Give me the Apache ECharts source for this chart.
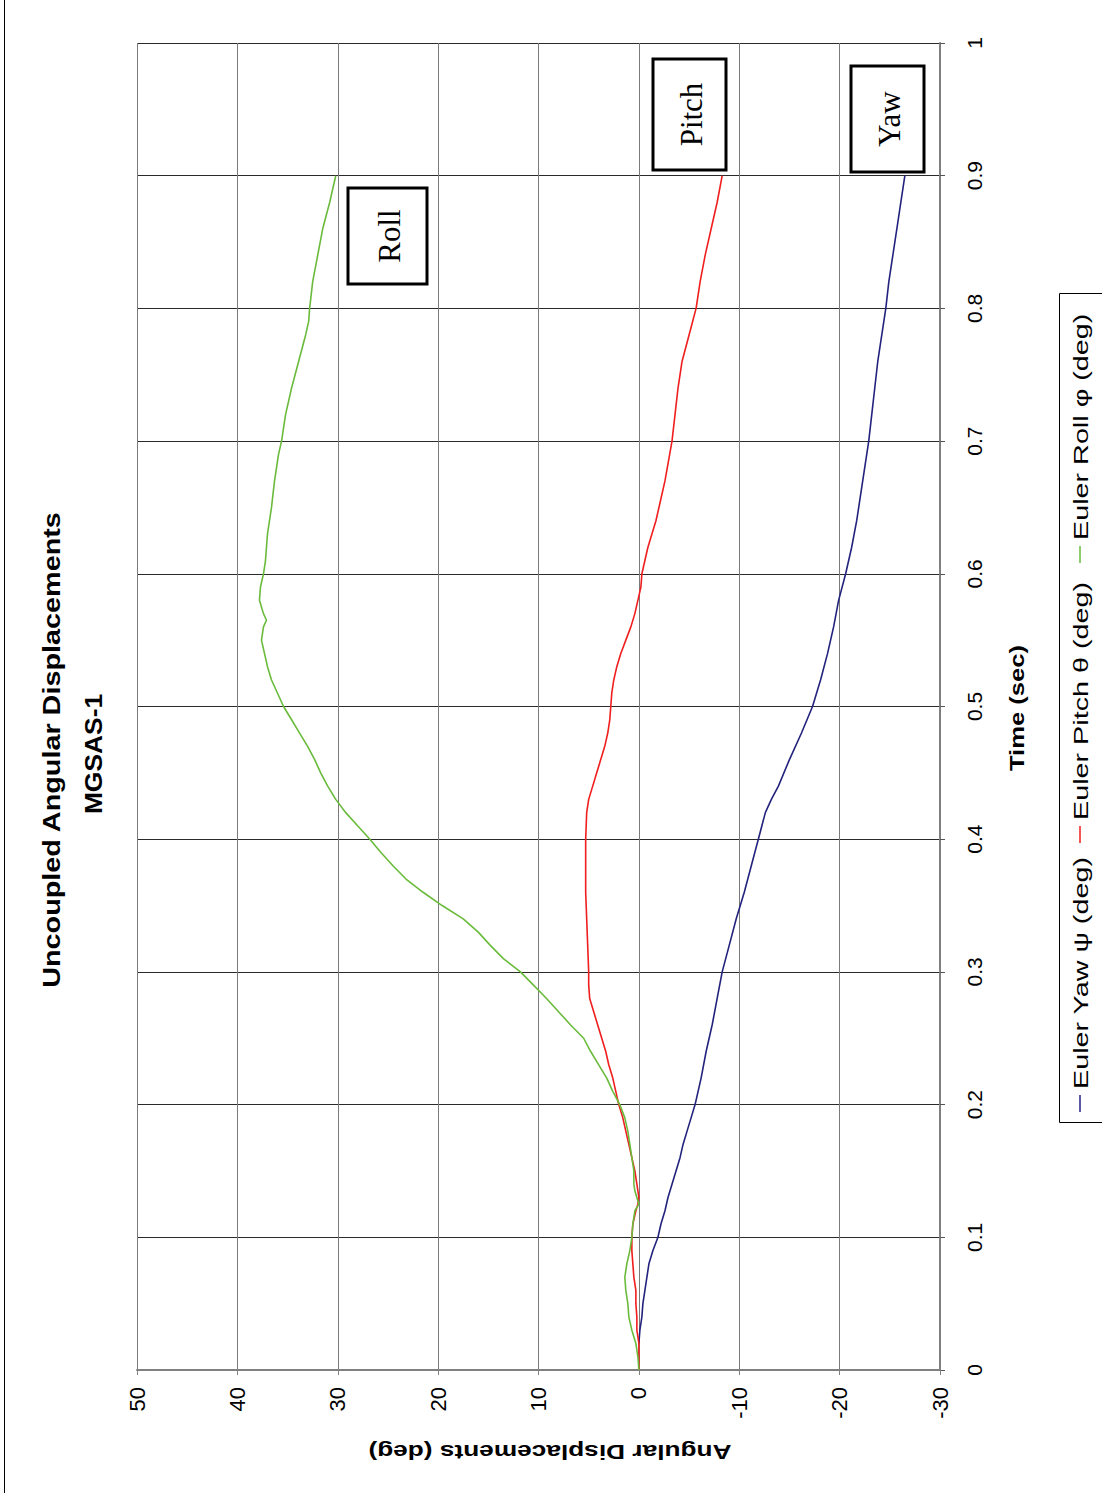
<!DOCTYPE html>
<html><head><meta charset="utf-8">
<script src="https://cdn.jsdelivr.net/npm/echarts@6/dist/echarts.min.js"></script>
<style>html,body{margin:0;padding:0;background:#fff}#c{width:1102px;height:1493px}</style>
</head><body><div id="c"></div><script>
// ---- data (time in sec, angle in deg) ----
const yawTime = [0.02,0.03,0.04,0.05,0.06,0.07,0.08,0.09,0.10,0.11,0.12,0.13,0.14,0.15,0.16,0.17,0.18,0.19,0.20,0.22,0.24,0.26,0.28,0.30,0.32,0.34,0.36,0.38,0.40,0.42,0.43,0.44,0.46,0.48,0.50,0.52,0.54,0.56,0.58,0.60,0.62,0.64,0.66,0.68,0.70,0.72,0.74,0.76,0.78,0.80,0.82,0.84,0.86,0.88,0.90];
const yawDeg  = [0.0,-0.1,-0.3,-0.4,-0.6,-0.8,-1.0,-1.4,-1.9,-2.2,-2.6,-2.9,-3.3,-3.7,-4.1,-4.4,-4.8,-5.2,-5.6,-6.2,-6.7,-7.3,-7.8,-8.3,-9.0,-9.7,-10.5,-11.2,-11.9,-12.6,-13.2,-13.9,-15.0,-16.2,-17.3,-18.1,-18.8,-19.4,-19.9,-20.6,-21.2,-21.7,-22.1,-22.5,-22.9,-23.2,-23.5,-23.8,-24.2,-24.6,-24.9,-25.3,-25.7,-26.1,-26.5];

const pitchTime = [0.00,0.01,0.02,0.03,0.04,0.05,0.06,0.07,0.08,0.09,0.10,0.11,0.12,0.125,0.13,0.14,0.15,0.16,0.17,0.18,0.19,0.20,0.21,0.22,0.23,0.24,0.25,0.26,0.27,0.28,0.29,0.30,0.32,0.34,0.36,0.38,0.40,0.42,0.43,0.44,0.45,0.46,0.47,0.48,0.49,0.50,0.51,0.52,0.53,0.54,0.55,0.56,0.57,0.58,0.59,0.60,0.61,0.62,0.63,0.64,0.65,0.67,0.70,0.72,0.74,0.76,0.78,0.80,0.82,0.84,0.86,0.88,0.90];
const pitchDeg  = [0.0,0.0,0.0,0.2,0.2,0.3,0.3,0.5,0.6,0.7,0.7,0.6,0.3,0.1,0.0,0.2,0.4,0.7,1.0,1.3,1.6,2.0,2.3,2.6,3.0,3.3,3.7,4.1,4.5,4.9,5.0,5.0,5.1,5.2,5.3,5.3,5.3,5.2,5.0,4.6,4.2,3.8,3.4,3.1,2.9,2.8,2.7,2.5,2.2,1.8,1.3,0.8,0.4,0.1,-0.2,-0.3,-0.6,-0.9,-1.3,-1.7,-2.0,-2.6,-3.3,-3.6,-3.9,-4.3,-5.0,-5.7,-6.1,-6.6,-7.2,-7.8,-8.3];

const rollTime = [0.00,0.01,0.02,0.03,0.04,0.05,0.06,0.07,0.08,0.09,0.10,0.11,0.12,0.125,0.13,0.135,0.14,0.15,0.16,0.17,0.18,0.19,0.20,0.21,0.22,0.23,0.24,0.25,0.26,0.27,0.28,0.29,0.30,0.31,0.32,0.33,0.34,0.35,0.36,0.37,0.38,0.39,0.40,0.41,0.42,0.43,0.44,0.45,0.46,0.47,0.48,0.49,0.50,0.51,0.52,0.53,0.54,0.55,0.56,0.565,0.57,0.58,0.59,0.60,0.61,0.62,0.63,0.64,0.65,0.67,0.69,0.70,0.72,0.74,0.76,0.78,0.79,0.80,0.82,0.84,0.86,0.88,0.90];
const rollDeg  = [0.0,0.1,0.3,0.7,1.0,1.1,1.3,1.4,1.2,0.9,0.7,0.6,0.4,0.0,0.2,0.4,0.5,0.5,0.7,0.9,1.1,1.4,1.9,2.6,3.2,4.0,4.8,5.5,6.8,8.0,9.2,10.5,11.8,13.5,14.8,16.0,17.5,19.6,21.5,23.2,24.5,25.7,26.8,28.0,29.2,30.2,31.0,31.7,32.3,33.0,33.8,34.6,35.4,36.0,36.6,37.0,37.3,37.6,37.4,37.1,37.4,37.8,37.7,37.4,37.2,37.1,37.0,36.8,36.6,36.3,35.9,35.6,35.2,34.6,33.9,33.2,32.9,32.8,32.5,32.0,31.5,30.8,30.2];

const seriesNames = ['Euler Yaw \u03c8 (deg)','Euler Pitch \u03b8 (deg)','Euler Roll \u03c6 (deg)'];
const seriesColors = ['#23237e','#f01e1e','#6abb3c'];
const labelTexts = ['Roll','Pitch','Yaw'];
const titleText = 'Uncoupled Angular Displacements';
const subTitleText = 'MGSAS-1';
const xName = 'Angular Displacements (deg)';
const yName = 'Time (sec)';

const pairs = (t, v) => t.map((x, i) => [v[i], x]);

const chart = echarts.init(document.getElementById('c'), null, {renderer: 'svg', width: 1102, height: 1493});
const F = '"Liberation Sans", Arial, sans-serif';
const R = Math.PI / 2;

// legend items (vertical, reading upward)
const legendItems = [];
const legendStarts = [1112, 843, 563];
seriesNames.forEach((n, i) => {
  const y0 = legendStarts[i];
  legendItems.push({type: 'line', shape: {x1: 1080, y1: y0, x2: 1080, y2: y0 - 17}, style: {stroke: seriesColors[i], lineWidth: 1.5}});
  legendItems.push({type: 'text', x: 1080, y: y0 - 23, rotation: R, scaleX: 1.37,
    style: {text: n, font: '21px ' + F, align: 'left', verticalAlign: 'middle', fill: '#000'}});
});

const boxes = [
  {cx: 387.5, cy: 236, w: 79, h: 96},
  {cx: 689.5, cy: 114.5, w: 73, h: 111},
  {cx: 887.5, cy: 119, w: 73, h: 106}
];
const boxItems = [];
boxes.forEach((b, i) => {
  boxItems.push({type: 'rect', shape: {x: b.cx - b.w / 2, y: b.cy - b.h / 2, width: b.w, height: b.h},
    style: {fill: '#fff', stroke: '#000', lineWidth: 3}, z: 10});
  boxItems.push({type: 'text', x: b.cx + 2, y: b.cy, rotation: R, z: 11,
    style: {text: labelTexts[i], font: '31px "Liberation Serif", "Times New Roman", serif', align: 'center', verticalAlign: 'middle', fill: '#000'}});
});

const option = {
  animation: false,
  backgroundColor: '#fff',
  grid: {left: 137, right: 162, top: 43, bottom: 123, containLabel: false},
  xAxis: {
    type: 'value', min: -30, max: 50, interval: 10, inverse: true, position: 'bottom',
    axisLine: {onZero: false, lineStyle: {color: '#808080', width: 2}},
    axisTick: {show: true, length: 5, lineStyle: {color: '#808080', width: 1}},
    axisLabel: {rotate: 90, margin: 17, fontSize: 22, fontFamily: F, color: '#000'},
    splitLine: {show: true, lineStyle: {color: '#7a7a7a', width: 1}}
  },
  yAxis: [{
    type: 'value', min: 0, max: 1, interval: 0.1, position: 'right',
    axisLine: {show: false}, axisTick: {show: false},
    axisLabel: {rotate: 90, margin: 24, fontSize: 21, fontFamily: F, color: '#000'},
    splitLine: {show: true, lineStyle: {color: '#2a2a2a', width: 1}}
  }, {
    type: 'value', min: 0, max: 1, interval: 0.1, position: 'right',
    axisLine: {show: true, onZero: true, lineStyle: {color: '#808080', width: 2}},
    axisTick: {show: true, length: 5, lineStyle: {color: '#555', width: 1}},
    axisLabel: {show: false}, splitLine: {show: false}
  }],
  series: [
    {name: seriesNames[0], type: 'line', data: pairs(yawTime, yawDeg), showSymbol: false, lineStyle: {color: seriesColors[0], width: 1.6}, itemStyle: {color: seriesColors[0]}, z: 5},
    {name: seriesNames[1], type: 'line', data: pairs(pitchTime, pitchDeg), showSymbol: false, lineStyle: {color: seriesColors[1], width: 1.6}, itemStyle: {color: seriesColors[1]}, z: 5},
    {name: seriesNames[2], type: 'line', data: pairs(rollTime, rollDeg), showSymbol: false, lineStyle: {color: seriesColors[2], width: 1.6}, itemStyle: {color: seriesColors[2]}, z: 5}
  ],
  graphic: [
    {type: 'line', shape: {x1: 4.5, y1: 0, x2: 4.5, y2: 1493}, style: {stroke: '#000', lineWidth: 1}},
    {type: 'text', x: 52, y: 750, rotation: R, scaleX: 1.2,
      style: {text: titleText, font: 'bold 24px ' + F, align: 'center', verticalAlign: 'middle', fill: '#000'}},
    {type: 'text', x: 93, y: 754, rotation: R, scaleX: 1.1,
      style: {text: subTitleText, font: 'bold 24px ' + F, align: 'center', verticalAlign: 'middle', fill: '#000'}},
    {type: 'text', x: 550, y: 1453, rotation: Math.PI, scaleX: 1.25,
      style: {text: xName, font: 'bold 21px ' + F, align: 'center', verticalAlign: 'middle', fill: '#000'}},
    {type: 'text', x: 1017, y: 708, rotation: R, scaleX: 1.22,
      style: {text: yName, font: 'bold 21px ' + F, align: 'center', verticalAlign: 'middle', fill: '#000'}},
    {type: 'rect', shape: {x: 1059.5, y: 293.5, width: 45, height: 829}, style: {fill: 'none', stroke: '#000', lineWidth: 1}},
    ...legendItems,
    ...boxItems
  ]
};
chart.setOption(option);
</script></body></html>
